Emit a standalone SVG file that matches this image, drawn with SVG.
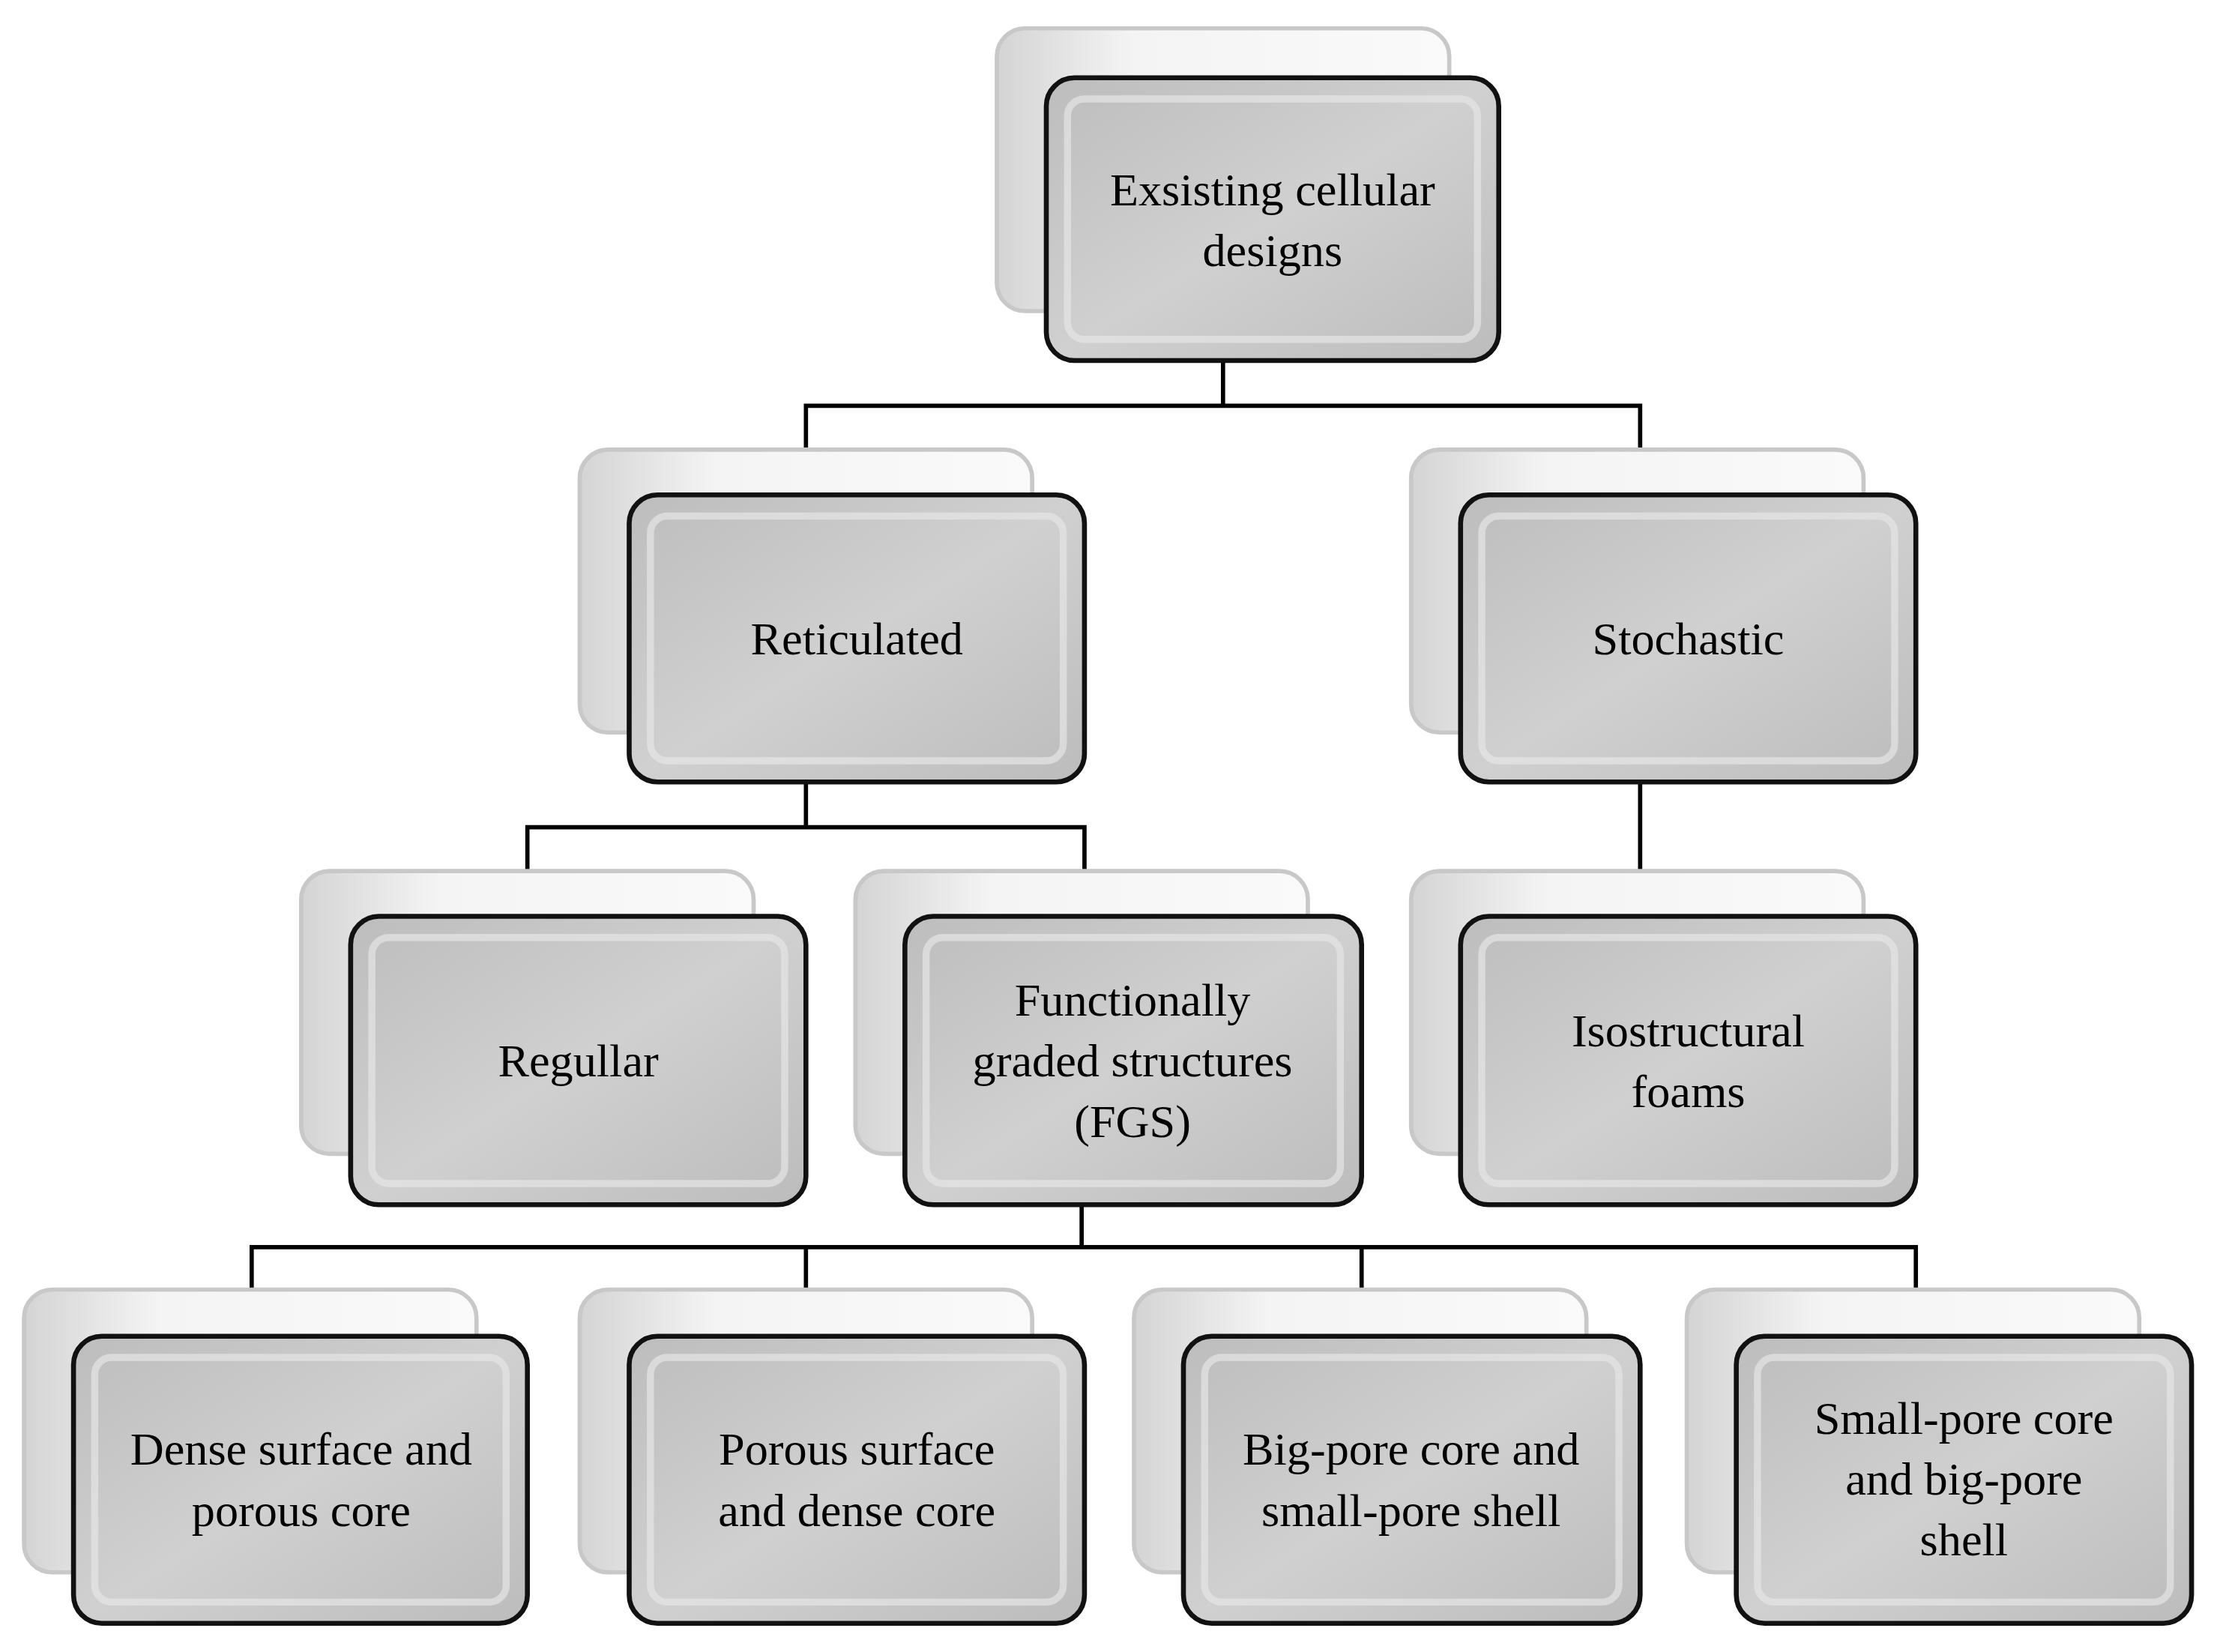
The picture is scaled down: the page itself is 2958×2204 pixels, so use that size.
<svg xmlns="http://www.w3.org/2000/svg" width="2958" height="2204" viewBox="0 0 2958 2204">
<defs>
<linearGradient id="g" x1="0" y1="0" x2="1" y2="1"><stop offset="0" stop-color="#bdbdbd"/><stop offset="0.5" stop-color="#d0d0d0"/><stop offset="1" stop-color="#bcbcbc"/></linearGradient>
<linearGradient id="s" x1="0" y1="0" x2="1" y2="0"><stop offset="0" stop-color="#d4d4d4"/><stop offset="0.3" stop-color="#f4f4f4"/><stop offset="1" stop-color="#fafafa"/></linearGradient>
<style>
.sh{fill:url(#s);stroke:#c8c8c8;stroke-width:3}
.mb{fill:url(#g);stroke:#111;stroke-width:3.5}
.in{fill:none;stroke:#e6e6e6;stroke-width:5;opacity:0.7}
.t{font-family:"Liberation Serif",serif;font-size:33px;fill:#000;text-anchor:middle}
.c{fill:none;stroke:#000;stroke-width:3}
</style>
</defs>
<rect width="2958" height="2204" fill="#fff"/>
<g transform="scale(1.8865)">
<g id="connectors">
<path class="c" d="M865 255V287M570 350V287H1160V350"/>
<path class="c" d="M570 553V585M373 648V585H767V648"/>
<path class="c" d="M1160 553V648"/>
<path class="c" d="M765 852V882M178 945V882H1355V945M570 882V945M963 882V945"/>
</g>
<g id="n-root"><rect class="sh" x="705" y="20" width="320" height="200" rx="20"/><rect class="mb" x="740" y="55" width="320" height="200" rx="20"/><rect class="in" x="755" y="70" width="290" height="170" rx="12"/><text class="t" x="900" y="145">Exsisting cellular</text><text class="t" x="900" y="188">designs</text></g>
<g id="n-ret"><rect class="sh" x="410" y="318" width="320" height="200" rx="20"/><rect class="mb" x="445" y="350" width="322" height="203" rx="20"/><rect class="in" x="460" y="365" width="292" height="173" rx="12"/><text class="t" x="606" y="463">Reticulated</text></g>
<g id="n-sto"><rect class="sh" x="998" y="318" width="320" height="200" rx="20"/><rect class="mb" x="1033" y="350" width="322" height="203" rx="20"/><rect class="in" x="1048" y="365" width="292" height="173" rx="12"/><text class="t" x="1194" y="463">Stochastic</text></g>
<g id="n-reg"><rect class="sh" x="213" y="616" width="320" height="200" rx="20"/><rect class="mb" x="248" y="648" width="322" height="204" rx="20"/><rect class="in" x="263" y="663" width="292" height="174" rx="12"/><text class="t" x="409" y="761">Regullar</text></g>
<g id="n-fgs"><rect class="sh" x="605" y="616" width="320" height="200" rx="20"/><rect class="mb" x="640" y="648" width="323" height="204" rx="20"/><rect class="in" x="655" y="663" width="293" height="174" rx="12"/><text class="t" x="801" y="718">Functionally</text><text class="t" x="801" y="761">graded structures</text><text class="t" x="801" y="804">(FGS)</text></g>
<g id="n-iso"><rect class="sh" x="998" y="616" width="320" height="200" rx="20"/><rect class="mb" x="1033" y="648" width="322" height="204" rx="20"/><rect class="in" x="1048" y="663" width="292" height="174" rx="12"/><text class="t" x="1194" y="740">Isostructural</text><text class="t" x="1194" y="783">foams</text></g>
<g id="n-d1"><rect class="sh" x="17" y="912" width="320" height="200" rx="20"/><rect class="mb" x="52" y="945" width="321" height="203" rx="20"/><rect class="in" x="67" y="960" width="291" height="173" rx="12"/><text class="t" x="213" y="1036">Dense surface and</text><text class="t" x="213" y="1079">porous core</text></g>
<g id="n-d2"><rect class="sh" x="410" y="912" width="320" height="200" rx="20"/><rect class="mb" x="445" y="945" width="322" height="203" rx="20"/><rect class="in" x="460" y="960" width="292" height="173" rx="12"/><text class="t" x="606" y="1036">Porous surface</text><text class="t" x="606" y="1079">and  dense core</text></g>
<g id="n-d3"><rect class="sh" x="802" y="912" width="320" height="200" rx="20"/><rect class="mb" x="837" y="945" width="323" height="203" rx="20"/><rect class="in" x="852" y="960" width="293" height="173" rx="12"/><text class="t" x="998" y="1036">Big-pore core and</text><text class="t" x="998" y="1079">small-pore shell</text></g>
<g id="n-d4"><rect class="sh" x="1193" y="912" width="320" height="200" rx="20"/><rect class="mb" x="1228" y="945" width="322" height="203" rx="20"/><rect class="in" x="1243" y="960" width="292" height="173" rx="12"/><text class="t" x="1389" y="1014">Small-pore core</text><text class="t" x="1389" y="1057">and  big-pore</text><text class="t" x="1389" y="1100">shell</text></g>
</g>
</svg>
